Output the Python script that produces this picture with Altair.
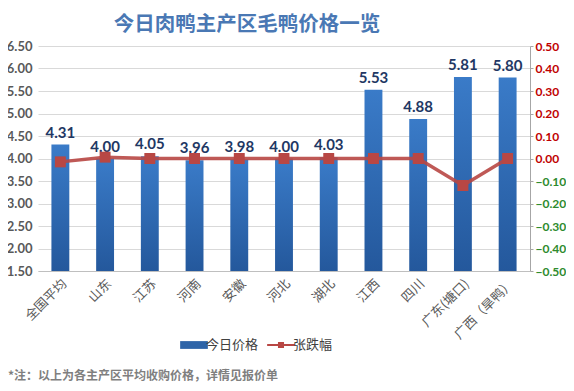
import altair as alt
import pandas as pd

regions = ["全国平均", "山东", "江苏", "河南", "安徽", "河北", "湖北", "江西", "四川", "广东(塘口)", "广西（旱鸭）"]
prices = [4.31, 4.00, 4.05, 3.96, 3.98, 4.00, 4.03, 5.53, 4.88, 5.81, 5.80]
changes = [-0.015, 0.006, 0.0, 0.0, 0.0, 0.0, 0.0, 0.0, 0.0, -0.12, 0.0]
series_names = ["今日价格", "张跌幅"]
left_ticks = [1.5, 2, 2.5, 3, 3.5, 4, 4.5, 5, 5.5, 6, 6.5]
right_ticks = [-0.5, -0.4, -0.3, -0.2, -0.1, 0, 0.1, 0.2, 0.3, 0.4, 0.5]

df = pd.DataFrame({
    "region": regions,
    "price": prices,
    "change": changes,
    "label": [f"{p:.2f}" for p in prices],
})

FONT = "Noto Sans CJK SC"
NUM = "Lato"
W, H = 492, 225

x_enc = alt.X("region:N", sort=regions, title=None,
              scale=alt.Scale(paddingInner=0.6, paddingOuter=0.3),
              axis=alt.Axis(labelAngle=-45, labelFontSize=13, labelColor="#595959",
                            labelFont=FONT, ticks=False, domainColor="#bfbfbf",
                            labelPadding=6, labelOverlap=False))

color_scale = alt.Scale(domain=series_names, range=["#2e64a8", "#b84744"])
shape_scale = alt.Scale(domain=series_names,
                        range=["M-1.6,-0.45H1.6V0.45H-1.6Z",
                               "M-1.6,-0.12H-0.35V-0.35H0.35V-0.12H1.6V0.12H0.35V0.35H-0.35V0.12H-1.6Z"])

grad = alt.Gradient(gradient="linear", x1=0, x2=0, y1=0, y2=1,
                    stops=[alt.GradientStop(color="#3a7bc8", offset=0),
                           alt.GradientStop(color="#24589c", offset=1)])

y_left = alt.Y("price:Q", title=None,
               scale=alt.Scale(domain=[1.5, 6.5], nice=False, zero=False),
               axis=alt.Axis(values=left_ticks, format=".2f", labelOverlap=False,
                             labelFontSize=13, labelFontWeight="bold", labelColor="#595959",
                             labelFont=NUM, domain=False, ticks=False, gridColor="#d9d9d9",
                             labelPadding=6))

bars = alt.Chart(df).mark_bar(fill=grad, clip=True).encode(
    x=x_enc,
    y=y_left,
    y2=alt.datum(1.5),
)

labels = alt.Chart(df).mark_text(dy=-12, fontSize=15, fontWeight="bold", color="#1f3864",
                                 font=NUM).encode(
    x=x_enc,
    y=y_left,
    text="label:N",
)

y_right = alt.Y("change:Q", title=None,
                scale=alt.Scale(domain=[-0.5, 0.5], nice=False),
                axis=alt.Axis(orient="right", values=right_ticks, labelOverlap=False,
                              format=".2f", grid=False, labelFontSize=12, labelFontWeight="bold",
                              labelFont=NUM,
                              labelColor=alt.ExprRef("datum.value < 0 ? '#2e8b2e' : '#c00000'"),
                              domainColor="#a6a6a6", tickColor="#a6a6a6", tickSize=3,
                              labelPadding=2))

line = alt.Chart(df).mark_line(strokeWidth=3.5, color="#b84744", opacity=0.9).encode(
    x=x_enc,
    y=y_right,
)
pts = alt.Chart(df).mark_point(shape="square", filled=True, size=120, color="#b84744", opacity=1).encode(
    x=x_enc,
    y=y_right,
)

right = alt.layer(line, pts)

# Hidden points (clipped, below the domain) carry the combined legend
leg_df = pd.DataFrame({"series": series_names, "region": [regions[0], regions[0]], "price": [0.5, 0.5]})
legend_layer = alt.Chart(leg_df).mark_point(filled=True, opacity=1, clip=True).encode(
    x=x_enc,
    y=y_left,
    color=alt.Color("series:N", scale=color_scale, title=None,
                    legend=alt.Legend(orient="none", legendX=147, legendY=290,
                                      direction="horizontal", symbolSize=300,
                                      symbolStrokeWidth=0, symbolOpacity=1,
                                      labelFontSize=13, labelColor="#404040", labelFont=FONT,
                                      columnPadding=8, labelOffset=3)),
    shape=alt.Shape("series:N", scale=shape_scale, title=None),
)

note_df = pd.DataFrame({"t": ["*注：以上为各主产区平均收购价格，详情见报价单"]})
note = alt.Chart(note_df).mark_text(align="left", baseline="middle", fontSize=12, fontWeight="bold",
                                    color="#7f7f7f", font=FONT).encode(
    text="t:N", x=alt.value(-30), y=alt.value(330))

left_all = alt.layer(bars, labels, legend_layer, note)

chart = alt.layer(left_all, right).resolve_scale(y="independent").properties(
    width=W, height=H,
    autosize=alt.AutoSizeParams(type="none"),
    padding={"left": 30, "top": 38, "right": 36, "bottom": 112},
    title=alt.TitleParams("今日肉鸭主产区毛鸭价格一览", fontSize=20.5, fontWeight="bold",
                          color="#4a78b4", font=FONT, anchor="middle", dx=-37, offset=5),
).configure_view(stroke=None)

chart.save("out.html", embed_options={"renderer": "svg", "actions": False})
